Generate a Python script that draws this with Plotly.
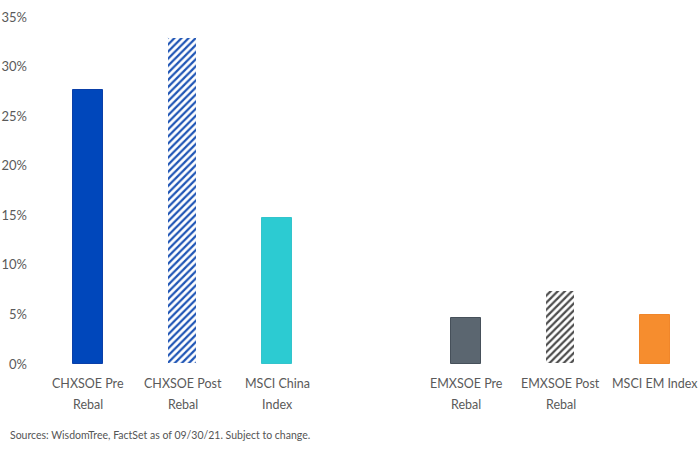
import plotly.graph_objects as go

label_line1 = ["CHXSOE Pre", "CHXSOE Post", "MSCI China", "EMXSOE Pre", "EMXSOE Post", "MSCI EM Index"]
label_line2 = ["Rebal", "Rebal", "Index", "Rebal", "Rebal", ""]
positions = [0, 1, 2, 4, 5, 6]
values = [27.6, 32.9, 14.7, 4.6, 7.4, 4.9]
colors = ["#0047BB", "#1F55B5", "#2CCBD2", "#5B6670", "#4D4D4D", "#F68D2E"]
line_colors = ["#0A3FA8", "#FFFFFF", "#33C4CC", "#46505A", "#FFFFFF", "#F0862A"]
patterned = [False, True, False, False, True, False]
y_ticks = [0, 5, 10, 15, 20, 25, 30, 35]
y_ticklabels = [f"{v}%" for v in y_ticks]
source = "Sources: WisdomTree, FactSet as of 09/30/21. Subject to change."

fig = go.Figure()
for p, v, c, lc, pat in zip(positions, values, colors, line_colors, patterned):
    marker = dict(color="white" if pat else c, line=dict(color=lc, width=1))
    if pat:
        marker["pattern"] = dict(shape="/", fgcolor=c, bgcolor="white", size=5,
                                 solidity=0.45, fgopacity=1, fillmode="overlay")
    fig.add_trace(go.Bar(x=[p], y=[v], width=0.31, marker=marker, showlegend=False,
                         hoverinfo="y"))

label_font = dict(size=12.5, color="#5a5a5a", family="Lato, Open Sans, sans-serif")
annotations = []
for p, l1, l2 in zip(positions, label_line1, label_line2):
    annotations.append(dict(text=l1, x=p, xref="x", y=-0.0576, yref="paper",
                            xanchor="center", yanchor="middle", showarrow=False, font=label_font))
    if l2:
        annotations.append(dict(text=l2, x=p, xref="x", y=-0.1153, yref="paper",
                                xanchor="center", yanchor="middle", showarrow=False, font=label_font))
annotations.append(dict(text=source, xref="paper", yref="paper", x=-0.049, y=-0.205,
                        xanchor="left", yanchor="middle", showarrow=False,
                        font=dict(size=10.5, color="#555555")))

fig.update_layout(
    width=700, height=450,
    margin=dict(l=40, r=0, t=17, b=86),
    plot_bgcolor="white", paper_bgcolor="white",
    font=dict(family="Lato, Open Sans, sans-serif", color="#5a5a5a", size=13),
    xaxis=dict(range=[-0.508, 6.476], tickmode="array", tickvals=positions,
               showticklabels=False, showgrid=False, zeroline=False, showline=False,
               ticks=""),
    yaxis=dict(range=[0, 35], tickmode="array", tickvals=y_ticks, ticktext=y_ticklabels,
               showgrid=False, zeroline=False, showline=False, ticks="",
               ticklabelstandoff=12, tickfont=dict(size=13, color="#5a5a5a")),
    annotations=annotations,
    bargap=0,
)

fig.write_html("out.html")
